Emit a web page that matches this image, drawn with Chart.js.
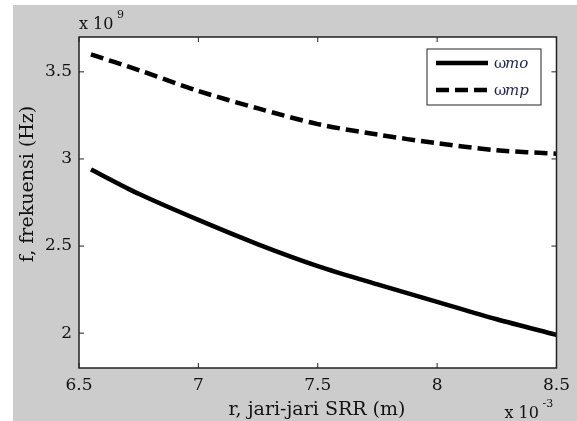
<!DOCTYPE html>
<html>
<head>
<meta charset="utf-8">
<script src="https://cdn.jsdelivr.net/npm/chart.js@4.4.1/dist/chart.umd.min.js"></script>
<style>
  html, body { margin: 0; padding: 0; background: #fff; }
  #wrap { width: 577px; height: 421px; position: relative; }
</style>
</head>
<body>
<div id="wrap"><canvas id="myChart" width="577" height="421"></canvas></div>
<script>
// radius r (x 10^-3 m)
var radius = [6.55, 6.75, 7.0, 7.25, 7.5, 7.75, 8.0, 8.25, 8.5];
// frequency (x 10^9 Hz)
var omegaMo = [2.94, 2.80, 2.65, 2.51, 2.385, 2.28, 2.18, 2.08, 1.99];
var omegaMp = [3.60, 3.51, 3.39, 3.29, 3.20, 3.14, 3.09, 3.05, 3.03];
var xTicks = [6.5, 7, 7.5, 8, 8.5];
var yTicks = [2, 2.5, 3, 3.5];

const serif = "'DejaVu Serif', 'Liberation Serif', serif";

// gray figure background + white axes box
const backdrop = {
    id: 'backdrop',
    beforeDraw(chart) {
        const ctx = chart.ctx;
        const a = chart.chartArea;
        ctx.save();
        ctx.fillStyle = '#ffffff';
        ctx.fillRect(0, 0, chart.width, chart.height);
        ctx.fillStyle = '#cccccc';
        ctx.fillRect(13, 5, chart.width - 13, chart.height - 5);
        ctx.fillStyle = '#ffffff';
        ctx.fillRect(a.left, a.top, a.right - a.left, a.bottom - a.top);
        ctx.restore();
    },
    afterDraw(chart) {
        const ctx = chart.ctx;
        const a = chart.chartArea;
        const xs = chart.scales.x, ys = chart.scales.y;
        ctx.save();
        // box
        ctx.strokeStyle = '#222';
        ctx.lineWidth = 1.5;
        ctx.strokeRect(a.left, a.top, a.right - a.left, a.bottom - a.top);
        // inward ticks on all four sides
        ctx.lineWidth = 1;
        xTicks.forEach(function(v) {
            const px = xs.getPixelForValue(v);
            ctx.beginPath();
            ctx.moveTo(px, a.bottom); ctx.lineTo(px, a.bottom - 5);
            ctx.moveTo(px, a.top); ctx.lineTo(px, a.top + 5);
            ctx.stroke();
        });
        yTicks.forEach(function(v) {
            const py = ys.getPixelForValue(v);
            ctx.beginPath();
            ctx.moveTo(a.left, py); ctx.lineTo(a.left + 5, py);
            ctx.moveTo(a.right, py); ctx.lineTo(a.right - 5, py);
            ctx.stroke();
        });

        // exponent labels
        ctx.fillStyle = '#111';
        ctx.textBaseline = 'alphabetic';
        ctx.font = '16px ' + serif;
        ctx.textAlign = 'left';
        ctx.fillText('x 10', a.left, a.top - 8);
        ctx.fillText('x 10', a.right - 52, chart.height - 3);
        ctx.font = '11px ' + serif;
        ctx.fillText('9', a.left + 38, a.top - 19);
        ctx.fillText('-3', a.right - 14, chart.height - 14);

        // axis titles
        ctx.font = '19px ' + serif;
        ctx.textAlign = 'center';
        ctx.fillText('r, jari-jari SRR (m)', 317, chart.height - 6);
        ctx.save();
        ctx.translate(33, 184);
        ctx.rotate(-Math.PI / 2);
        ctx.fillText('f, frekuensi (Hz)', 0, 0);
        ctx.restore();

        // legend box
        const lx = 427, ly = 49, lw = 114, lh = 56;
        ctx.fillStyle = '#fff';
        ctx.fillRect(lx, ly, lw, lh);
        ctx.strokeStyle = '#222';
        ctx.lineWidth = 1;
        ctx.strokeRect(lx, ly, lw, lh);
        chart.data.datasets.forEach(function(ds, i) {
            const yy = ly + 14 + i * 27;
            ctx.strokeStyle = ds.borderColor;
            ctx.lineWidth = ds.borderWidth;
            ctx.setLineDash(ds.borderDash || []);
            ctx.beginPath();
            ctx.moveTo(lx + 9, yy); ctx.lineTo(lx + 61, yy);
            ctx.stroke();
            ctx.setLineDash([]);
            ctx.fillStyle = '#1c2550';
            ctx.textAlign = 'left';
            ctx.textBaseline = 'middle';
            ctx.font = '15px ' + serif;
            ctx.fillText('\u03c9', lx + 67, yy + 1);
            ctx.font = 'italic 15px ' + serif;
            ctx.fillText(ds.label.slice(1), lx + 78, yy + 1);
        });
        ctx.restore();
    }
};

function toPoints(xs, ys) {
    return xs.map((x, i) => ({x: x, y: ys[i]}));
}

const data = {
    datasets: [{
        label: '\u03c9mo',
        data: toPoints(radius, omegaMo),
        borderColor: '#000',
        borderWidth: 4.5,
        tension: 0.3,
        pointRadius: 0
    }, {
        label: '\u03c9mp',
        data: toPoints(radius, omegaMp),
        borderColor: '#000',
        borderWidth: 4.5,
        borderDash: [13, 6],
        tension: 0.3,
        pointRadius: 0
    }]
};

const config = {
    type: 'line',
    data: data,
    plugins: [backdrop],
    options: {
        responsive: false,
        animation: false,
        layout: { padding: { left: 13, top: 37, right: 18, bottom: 0 } },
        scales: {
            x: {
                type: 'linear',
                min: 6.5,
                max: 8.5,
                afterFit: function(s) { s.height = 53; },
                afterBuildTicks: function(s) { s.ticks = xTicks.map(v => ({value: v})); },
                grid: { display: false, drawTicks: false },
                border: { display: false },
                ticks: {
                    color: '#111',
                    padding: 7,
                    maxRotation: 0,
                    font: { family: serif, size: 17 },
                    callback: v => String(v)
                }
            },
            y: {
                type: 'linear',
                min: 1.8,
                max: 3.7,
                afterFit: function(s) { s.width = 66; },
                afterBuildTicks: function(s) { s.ticks = yTicks.map(v => ({value: v})); },
                grid: { display: false, drawTicks: false },
                border: { display: false },
                ticks: {
                    color: '#111',
                    padding: 7,
                    font: { family: serif, size: 17 },
                    callback: v => String(v)
                }
            }
        },
        plugins: {
            legend: { display: false },
            tooltip: { enabled: false }
        }
    }
};

new Chart(document.getElementById('myChart').getContext('2d'), config);
</script>
</body>
</html>
